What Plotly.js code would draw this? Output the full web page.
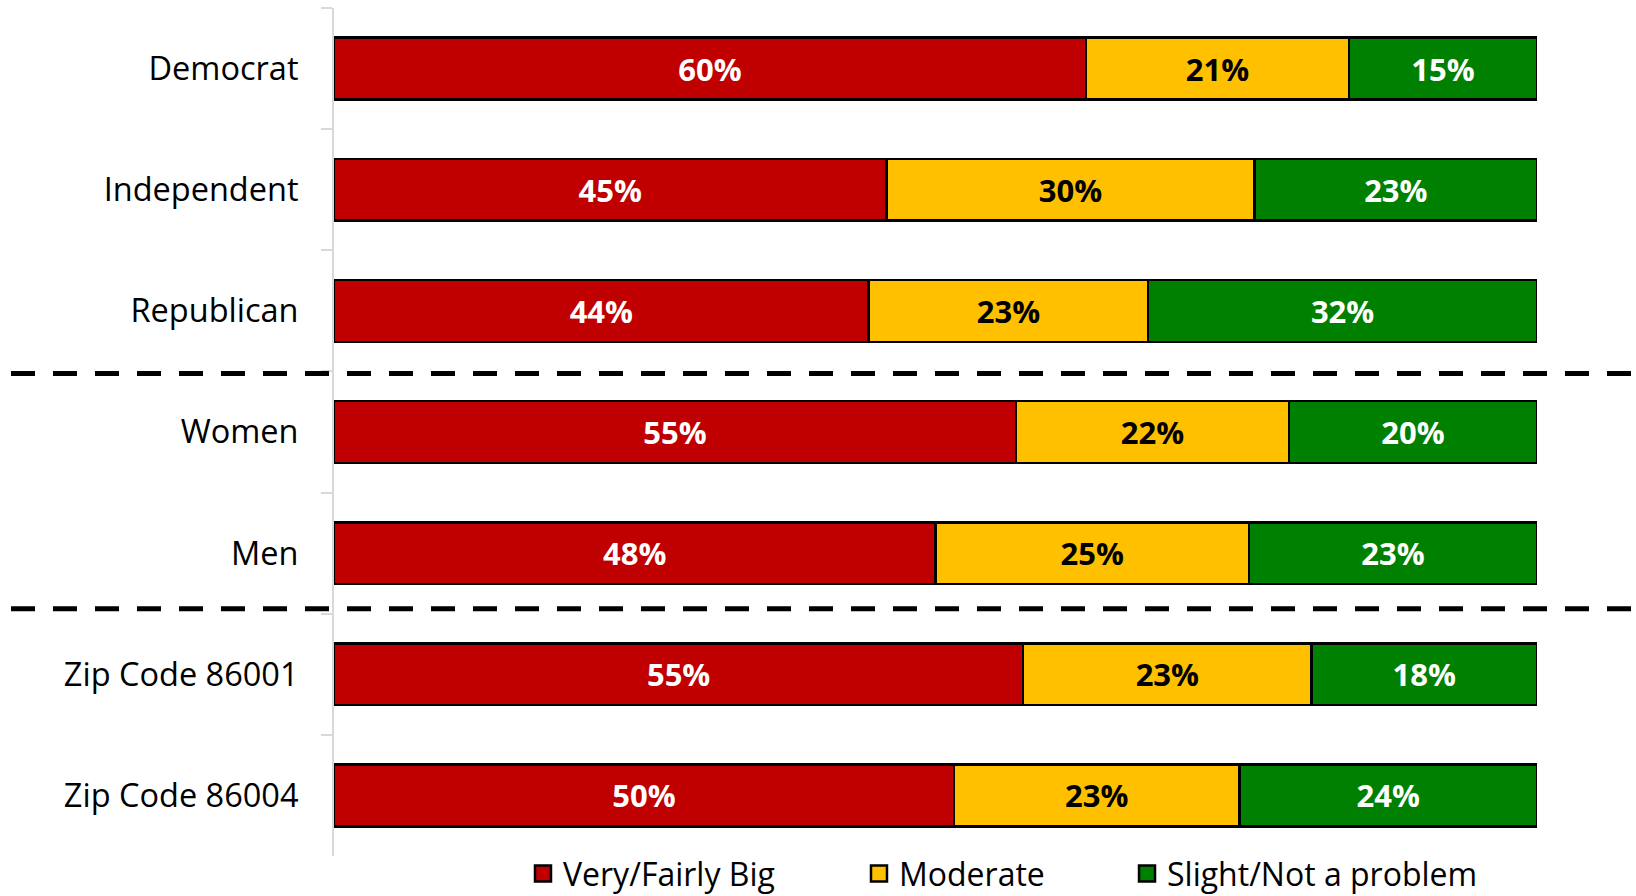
<!DOCTYPE html>
<html>
<head>
<meta charset="utf-8">
<script src="https://cdn.plot.ly/plotly-3.0.1.min.js"></script>
<style>
  html, body { margin: 0; padding: 0; background: #ffffff; }
  #chart { width: 1636px; height: 896px; }
</style>
</head>
<body>
<div id="chart"></div>
<script>
// ---- data ----
const categories = ["Democrat", "Independent", "Republican", "Women", "Men", "Zip Code 86001", "Zip Code 86004"];
const bigValues = [60, 45, 44, 55, 48, 55, 50];
const moderateValues = [21, 30, 23, 22, 25, 23, 23];
const slightValues = [15, 23, 32, 20, 23, 18, 24];
const seriesNames = ["Very/Fairly Big", "Moderate", "Slight/Not a problem"];
const seriesColors = ["#C00000", "#FFC000", "#008000"];
const labelColors = ["#FFFFFF", "#000000", "#FFFFFF"];
const dividerAfter = ["Republican", "Men"];

const FONT = "Open Sans, Lato, sans-serif";
const seriesValues = [bigValues, moderateValues, slightValues];

const traces = seriesValues.map((vals, i) => ({
  type: "bar",
  orientation: "h",
  name: seriesNames[i],
  y: categories,
  x: vals,
  text: vals.map(v => v + "%"),
  textposition: "inside",
  insidetextanchor: "middle",
  textangle: 0,
  constraintext: "none",
  textfont: { family: FONT, size: 31, weight: "bold", color: labelColors[i] },
  marker: { color: seriesColors[i], line: { color: "#000000", width: 2.5 } },
  showlegend: false,
  hoverinfo: "skip"
}));

// legend entries (one legend per entry so each can be placed like the original)
const legendIds = ["legend", "legend2", "legend3"];
seriesNames.forEach((name, i) => {
  traces.push({
    type: "scatter",
    mode: "markers",
    name: name,
    x: [null],
    y: [null],
    legend: legendIds[i],
    marker: { symbol: "square", size: 16, color: seriesColors[i], line: { color: "#000000", width: 2.5 } },
    hoverinfo: "skip"
  });
});

// dividers between groups, drawn near the category boundaries
const dividerNudge = [0.017, -0.041];
const shapes = dividerAfter.map((c, k) => {
  const idx = categories.indexOf(c) + 0.5 + dividerNudge[k];
  return {
    type: "line",
    xref: "paper", yref: "y",
    x0: -0.2685, x1: 1.09,
    y0: idx, y1: idx,
    line: { color: "#000000", width: 5, dash: "24px,18px" },
    layer: "above"
  };
});

const legendBase = {
  orientation: "h",
  xanchor: "left",
  yanchor: "middle",
  y: -0.021,
  bgcolor: "rgba(0,0,0,0)",
  font: { family: FONT, size: 32, color: "#000000" },
  itemclick: false
};

const layout = {
  width: 1636,
  height: 896,
  paper_bgcolor: "#ffffff",
  plot_bgcolor: "#ffffff",
  margin: { l: 334, r: 99, t: 8, b: 40, autoexpand: false },
  barmode: "stack",
  barnorm: "percent",
  bargap: 0.49,
  font: { family: FONT, size: 32, color: "#000000" },
  xaxis: {
    range: [0, 100],
    showticklabels: false,
    showgrid: false,
    zeroline: false,
    showline: false,
    ticks: ""
  },
  yaxis: {
    type: "category",
    categoryorder: "array",
    categoryarray: categories,
    autorange: "reversed",
    showgrid: false,
    zeroline: false,
    showline: true,
    linecolor: "#D9D9D9",
    linewidth: 2,
    ticks: "outside",
    tickson: "boundaries",
    ticklen: 11,
    tickwidth: 2,
    tickcolor: "#D9D9D9",
    ticklabelstandoff: 27,
    tickfont: { family: FONT, size: 32.5, color: "#000000" }
  },
  shapes: shapes,
  legend: Object.assign({}, legendBase, { x: 0.1571 }),
  legend2: Object.assign({}, legendBase, { x: 0.4364 }),
  legend3: Object.assign({}, legendBase, { x: 0.6592 })
};

Plotly.newPlot("chart", traces, layout, { staticPlot: true, displayModeBar: false });
</script>
</body>
</html>
